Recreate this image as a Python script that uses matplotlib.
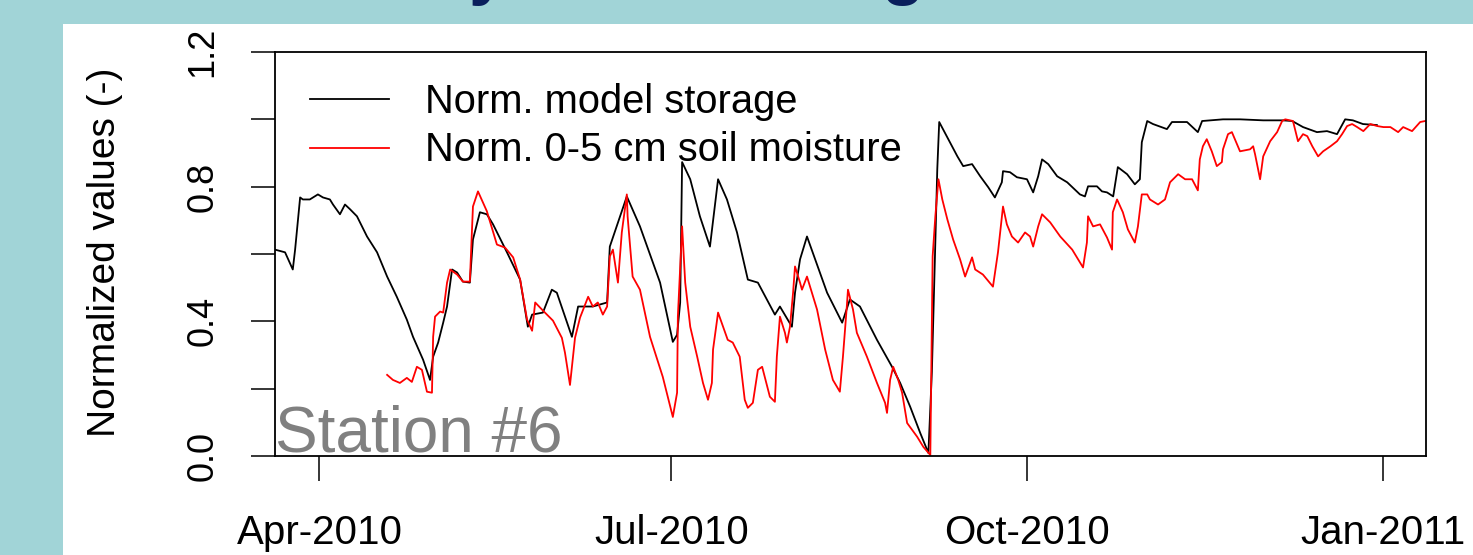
import numpy as np
import pandas as pd
import matplotlib
matplotlib.use("Agg")
import matplotlib.pyplot as plt
import matplotlib.dates as mdates
from matplotlib.patches import Rectangle
from matplotlib.ticker import MultipleLocator

# --- series (day of year 2010, normalized value) ---
storage_doy = [79.5, 82.1, 84.1, 84.7, 86.0, 86.7, 88.5, 90.6, 91.9, 93.7, 94.5, 96.3,
               97.6, 98.9, 100.7, 103.3, 105.9, 108.5, 111.0, 113.6, 115.2, 117.8, 119.6,
               120.4, 121.7, 123.0, 124.0, 125.3, 126.6, 128.1, 129.9, 130.7, 132.5, 134.3,
               135.9, 139.5, 142.9, 144.9, 146.0, 148.8, 151.1, 152.4, 156.3, 157.9, 161.7,
               165.4, 166.1, 170.5, 173.9, 179.1, 182.4, 183.5, 184.3, 184.8, 186.9, 189.4,
               192.0, 194.1, 196.4, 199.0, 201.8, 204.4, 208.8, 210.1, 213.2, 214.0, 215.3,
               217.1, 222.3, 226.2, 228.2, 230.8, 235.2, 239.1, 241.2, 243.8, 246.4, 248.5,
               249.4, 250.3, 250.8, 251.3, 256.0, 257.5, 259.8, 261.9, 264.0, 265.7, 267.5,
               267.8, 269.6, 271.4, 274.0, 275.6, 276.9, 277.9, 279.5, 281.8, 284.4, 287.7,
               289.0, 289.8, 292.1, 293.4, 294.7, 296.3, 297.5, 299.9, 301.9, 303.2, 303.7,
               305.1, 306.6, 310.2, 311.5, 315.4, 318.2, 319.3, 324.7, 329.1, 335.1, 340.2,
               342.6, 345.4, 349.0, 351.6, 354.2, 356.3, 358.3, 360.9, 364.5]
storage_val = [0.613, 0.605, 0.554, 0.613, 0.768, 0.762, 0.762, 0.777, 0.768, 0.762, 0.747, 0.718,
               0.747, 0.733, 0.712, 0.652, 0.605, 0.533, 0.473, 0.405, 0.354, 0.286, 0.226,
               0.295, 0.337, 0.396, 0.444, 0.554, 0.545, 0.518, 0.515, 0.643, 0.724, 0.718,
               0.688, 0.605, 0.524, 0.384, 0.420, 0.426, 0.494, 0.485, 0.354, 0.444, 0.444,
               0.456, 0.622, 0.771, 0.682, 0.515, 0.339, 0.360, 0.456, 0.873, 0.822, 0.712,
               0.622, 0.822, 0.762, 0.664, 0.524, 0.515, 0.420, 0.444, 0.384, 0.485, 0.584,
               0.652, 0.485, 0.396, 0.465, 0.444, 0.345, 0.265, 0.217, 0.146, 0.068, 0.009,
               0.250, 0.643, 0.852, 0.992, 0.890, 0.861, 0.867, 0.831, 0.798, 0.768, 0.813,
               0.846, 0.843, 0.828, 0.822, 0.783, 0.831, 0.881, 0.867, 0.831, 0.813, 0.777,
               0.771, 0.801, 0.801, 0.786, 0.783, 0.771, 0.858, 0.837, 0.807, 0.822, 0.932,
               0.995, 0.986, 0.971, 0.992, 0.992, 0.962, 0.995, 1.000, 1.000, 0.997, 0.997,
               0.995, 0.977, 0.962, 0.965, 0.956, 1.000, 0.997, 0.986, 0.983]

soil_doy = [108.5, 110.0, 111.8, 113.6, 114.9, 116.2, 117.5, 118.8, 120.1, 120.4, 120.9, 122.2,
            123.0, 124.0, 124.8, 126.6, 128.1, 129.9, 130.7, 132.0, 134.3, 136.9, 139.0, 141.1,
            142.9, 144.7, 146.0, 146.8, 148.8, 151.4, 153.7, 154.5, 155.8, 157.1, 158.4, 160.5,
            161.7, 163.0, 164.3, 165.4, 166.1, 166.9, 168.2, 169.2, 170.5, 170.7, 172.0, 173.9,
            176.5, 179.8, 182.4, 183.5, 183.7, 184.8, 185.6, 186.9, 188.7, 190.2, 191.5, 192.5,
            192.8, 194.1, 196.6, 197.9, 199.7, 201.0, 201.8, 203.1, 204.4, 205.5, 207.5, 208.8,
            209.3, 210.1, 211.4, 211.9, 212.7, 213.5, 214.0, 215.3, 215.8, 217.1, 217.9, 219.7,
            221.8, 223.8, 225.6, 226.4, 227.4, 227.7, 229.0, 230.0, 232.6, 235.2, 237.3, 237.8,
            238.6, 239.4, 240.7, 241.7, 243.0, 245.6, 247.2, 249.0, 249.6, 250.3, 251.1, 252.1,
            253.4, 254.9, 256.7, 258.0, 259.8, 260.6, 262.6, 265.2, 266.5, 267.8, 268.8, 270.1,
            271.7, 273.5, 274.8, 275.6, 276.9, 277.9, 280.0, 282.6, 285.7, 288.5, 289.5, 289.8,
            291.1, 292.9, 294.7, 296.0, 296.2, 297.3, 298.8, 300.1, 301.9, 302.7, 303.7, 305.1,
            305.8, 307.9, 309.7, 311.0, 313.1, 314.9, 316.7, 318.2, 318.7, 319.5, 320.5, 321.8,
            323.1, 324.4, 324.7, 326.0, 327.0, 329.1, 331.7, 332.5, 333.0, 334.3, 335.1, 336.9,
            338.7, 340.0, 340.8, 342.8, 344.1, 345.4, 346.5, 347.8, 349.3, 350.6, 352.5, 354.2,
            355.5, 356.8, 358.1, 359.4, 361.0, 362.8, 364.6, 366.2, 368.0, 370.0, 371.3, 373.6,
            375.7, 377.0]
soil_val = [0.241, 0.226, 0.217, 0.232, 0.220, 0.265, 0.256, 0.191, 0.188, 0.354, 0.414, 0.429,
            0.426, 0.515, 0.554, 0.539, 0.518, 0.518, 0.741, 0.786, 0.727, 0.628, 0.619, 0.590,
            0.524, 0.405, 0.372, 0.456, 0.432, 0.402, 0.351, 0.307, 0.211, 0.351, 0.411, 0.473,
            0.444, 0.456, 0.420, 0.444, 0.593, 0.613, 0.515, 0.664, 0.777, 0.712, 0.533, 0.494,
            0.354, 0.235, 0.116, 0.188, 0.414, 0.682, 0.515, 0.384, 0.295, 0.217, 0.167, 0.217,
            0.316, 0.426, 0.345, 0.337, 0.295, 0.167, 0.143, 0.158, 0.256, 0.265, 0.176, 0.161,
            0.295, 0.414, 0.366, 0.337, 0.384, 0.485, 0.563, 0.515, 0.494, 0.533, 0.503, 0.435,
            0.316, 0.226, 0.191, 0.295, 0.444, 0.494, 0.435, 0.366, 0.295, 0.217, 0.158, 0.128,
            0.226, 0.265, 0.226, 0.188, 0.098, 0.057, 0.027, 0.003, 0.593, 0.712, 0.822, 0.762,
            0.703, 0.643, 0.584, 0.533, 0.590, 0.554, 0.539, 0.503, 0.605, 0.741, 0.688, 0.652,
            0.634, 0.664, 0.652, 0.622, 0.682, 0.718, 0.694, 0.652, 0.613, 0.560, 0.634, 0.712,
            0.682, 0.688, 0.649, 0.613, 0.724, 0.762, 0.724, 0.673, 0.634, 0.682, 0.777, 0.777,
            0.762, 0.747, 0.762, 0.813, 0.837, 0.822, 0.822, 0.789, 0.881, 0.920, 0.941, 0.905,
            0.861, 0.873, 0.911, 0.956, 0.962, 0.905, 0.911, 0.920, 0.896, 0.822, 0.890, 0.935,
            0.962, 0.995, 1.000, 0.995, 0.935, 0.956, 0.950, 0.920, 0.890, 0.905, 0.920, 0.935,
            0.956, 0.980, 0.986, 0.977, 0.965, 0.986, 0.980, 0.977, 0.977, 0.962, 0.977, 0.965,
            0.992, 0.995]

labels = ["Norm. model storage", "Norm. 0-5 cm soil moisture"]
station = "Station #6"


def to_dates(doy):
    return pd.Timestamp("2010-01-01") + pd.to_timedelta(np.asarray(doy) - 1, unit="D")


plt.rcParams["font.family"] = ["Liberation Sans", "DejaVu Sans"]

fig = plt.figure(figsize=(14.73, 5.55), dpi=100, facecolor="#a1d4d7")
# white slide panel
fig.patches.append(Rectangle((63 / 1473, 0), 1, (555 - 24) / 555,
                             transform=fig.transFigure, facecolor="white",
                             edgecolor="none", zorder=-5))
# bottom of the slide title, cut off by the top edge
for ch, xc in [("y", 488), ("g", 902)]:
    fig.text(xc / 1473, 1.014, ch, fontsize=50, fontweight="bold", color="#0a1f5c",
             ha="center", va="baseline")

ax = fig.add_axes([275 / 1473, 99 / 555, 1151 / 1473, 404 / 555])
ax.set_facecolor("white")
ax.set_zorder(2)

ax.plot(to_dates(storage_doy), storage_val, color="black", lw=1.3, label=labels[0])
ax.plot(to_dates(soil_doy), soil_val, color="red", lw=1.3, label=labels[1])

ax.set_xlim(pd.Timestamp("2010-03-20 12:00"), pd.Timestamp("2011-01-12 05:00"))
ax.set_ylim(0, 1.2)

ax.xaxis.set_major_locator(mdates.MonthLocator(bymonth=[1, 4, 7, 10]))
ax.xaxis.set_major_formatter(mdates.DateFormatter("%b-%Y"))
ax.yaxis.set_major_locator(MultipleLocator(0.4))
ax.yaxis.set_minor_locator(MultipleLocator(0.2))
ax.yaxis.set_major_formatter(lambda v, p: f"{v:.1f}")

ax.tick_params(axis="x", length=18, width=1.1, pad=24, labelsize=29)
ax.tick_params(axis="y", which="both", length=17, width=1.1)
ax.tick_params(axis="y", which="major", pad=22.5, labelsize=26, labelrotation=90)
for lab in ax.get_yticklabels():
    lab.set_verticalalignment("center")

for s in ax.spines.values():
    s.set_linewidth(1.3)

fig.text(105 / 1473, 0.545, "Normalized values (-)", rotation=90,
         ha="center", va="center", fontsize=28)

ax.legend(loc="upper left", bbox_to_anchor=(0.030, 0.923), frameon=False,
          fontsize=28.7, handlelength=2.0, handletextpad=0.9, labelspacing=0.26,
          borderpad=0, borderaxespad=0)

ax.text(0.0, 0.01, station, transform=ax.transAxes, fontsize=46,
        color="#808080", ha="left", va="baseline")

fig.savefig("out.png", dpi=100, facecolor=fig.get_facecolor())
